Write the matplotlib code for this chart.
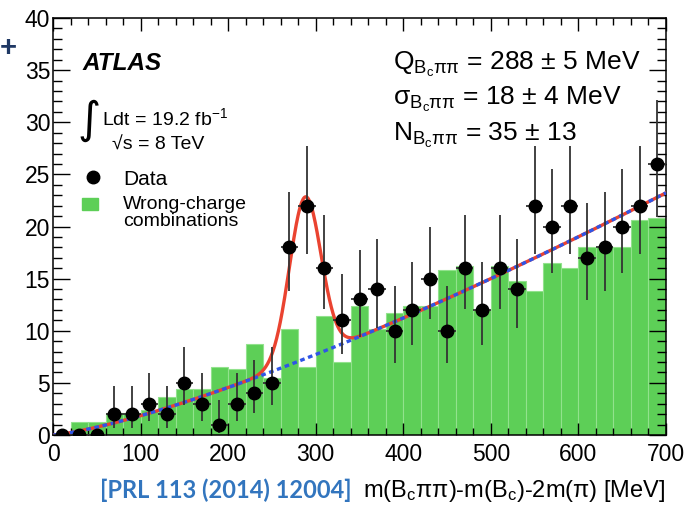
import numpy as np
import matplotlib
matplotlib.use("Agg")
import matplotlib.pyplot as plt
from matplotlib.ticker import MultipleLocator
from matplotlib.lines import Line2D
from matplotlib.patches import Rectangle

plt.rcParams['font.family'] = ['Liberation Sans', 'DejaVu Sans']
plt.rcParams['mathtext.fontset'] = 'custom'
plt.rcParams['mathtext.rm'] = 'Liberation Sans'
plt.rcParams['mathtext.it'] = 'Liberation Sans:italic'
plt.rcParams['mathtext.bf'] = 'Liberation Sans:bold'

# ---------------- data ----------------
bin_edges = np.arange(0, 720, 20)
bin_centers = bin_edges[:-1] + 10

# Wrong-charge combinations (green histogram)
wrong_charge = [0.0, 1.2, 1.2, 2.1, 2.1, 2.4, 3.6, 4.4, 4.4, 6.5,
                6.3, 8.7, 5.5, 10.2, 6.5, 11.4, 7.0, 12.4, 10.2, 11.7,
                12.4, 12.4, 15.8, 16.2, 12.0, 16.2, 14.8, 13.8, 16.5, 16.0,
                18.0, 18.0, 18.0, 20.6, 20.8]

# Data counts
data_counts = [0, 0, 0, 2, 2, 3, 2, 5, 3, 1,
               3, 4, 5, 18, 22, 16, 11, 13, 14, 10,
               12, 15, 10, 16, 12, 16, 14, 22, 20, 22,
               17, 18, 20, 22, 26]

# Fit results
peak_Q = 288.0
peak_sigma = 18.0
peak_N = 35.0
bkg_a = 0.00465
bkg_b = 1.3

# ---------------- figure ----------------
W, H = 695, 507
fig = plt.figure(figsize=(W / 100, H / 100), dpi=100)
ax = fig.add_axes([53 / W, 72 / H, 613 / W, 417 / H])

green = '#5DCF57'
ax.bar(bin_edges[:-1], wrong_charge, width=20, align='edge',
       color=green, edgecolor='#92E28D', linewidth=0.8, zorder=1)

# Poisson (Gehrels) error bars
n = np.array(data_counts, dtype=float)
up = np.where(n > 0, np.sqrt(n + 0.75) + 1.0, 0.0)
lo = np.where(n > 0, n - n * (1 - 1 / (9 * np.maximum(n, 1)) - 1 / (3 * np.sqrt(np.maximum(n, 1)))) ** 3, 0.0)

# fit curves
x = np.linspace(0.5, 700, 1000)
bkg = bkg_a * x ** bkg_b
amp = peak_N * 20 / (np.sqrt(2 * np.pi) * peak_sigma)
total = bkg + amp * np.exp(-0.5 * ((x - peak_Q) / peak_sigma) ** 2)

ax.plot(x, total, color='#EA4330', lw=2.4, zorder=3)
ax.plot(x, bkg, color='#2F55E6', lw=2.4, dashes=(1.4, 1.1), zorder=4)

ax.errorbar(bin_centers, n, yerr=[lo, up], xerr=10, fmt='o', color='black',
            ecolor='#333333', elinewidth=1.3, ms=9, capsize=0, zorder=5)

ax.set_xlim(0, 700)
ax.set_ylim(0, 40)
ax.xaxis.set_major_locator(MultipleLocator(100))
ax.xaxis.set_minor_locator(MultipleLocator(20))
ax.yaxis.set_major_locator(MultipleLocator(5))
ax.yaxis.set_minor_locator(MultipleLocator(1))
ax.tick_params(which='both', direction='in', top=True, right=True, width=1.0,
               labelsize=16.5)
ax.xaxis.set_tick_params(which='major', length=9, pad=6)
ax.xaxis.set_tick_params(which='minor', length=5)
ax.yaxis.set_tick_params(which='major', length=12.5, pad=2)
ax.yaxis.set_tick_params(which='minor', length=6.5)
for s in ax.spines.values():
    s.set_linewidth(1.1)

def fx(px):
    return px / W

def fy(py):
    return 1 - py / H

# annotations
fig.text(fx(83), fy(70), 'ATLAS', fontsize=17.5, weight='bold', style='italic')
fig.text(fx(77), fy(133), '∫', fontsize=32, family='DejaVu Sans')
fig.text(fx(102), fy(125), r'Ldt = 19.2 fb$^{\mathregular{-1}}$', fontsize=14)
fig.text(fx(112), fy(150), '√s = 8 TeV', fontsize=14)

fig.add_artist(Line2D([fx(93)], [fy(177)], marker='o', ms=9, color='black',
                      transform=fig.transFigure))
fig.add_artist(Rectangle((fx(82), fy(210)), 16 / W, 12 / H, color=green,
                         transform=fig.transFigure))
fig.text(fx(123), fy(185), 'Data', fontsize=15)
fig.text(fx(123), fy(209), 'Wrong-charge', fontsize=14)
fig.text(fx(123), fy(226), 'combinations', fontsize=14)

fig.text(fx(393), fy(70), r'Q$_{\mathregular{B_cππ}}$ = 288 ± 5 MeV', fontsize=19)
fig.text(fx(393), fy(105), r'σ$_{\mathregular{B_cππ}}$ = 18 ± 4 MeV', fontsize=19)
fig.text(fx(393), fy(141), r'N$_{\mathregular{B_cππ}}$ = 35 ± 13', fontsize=19)

fig.text(fx(665), fy(497), r'm(B$_{\mathregular{c}}$ππ)-m(B$_{\mathregular{c}}$)-2m(π) [MeV]',
         ha='right', fontsize=17)
fig.text(fx(100), fy(498), '[PRL 113 (2014) 12004]', color='#3275BE',
         weight='bold', family=['Lato', 'DejaVu Sans'], fontsize=17)
fig.text(fx(0), fy(48), '+', color='#1F3864', fontsize=21, weight='bold', va='center')

fig.savefig('out.png', dpi=100)
